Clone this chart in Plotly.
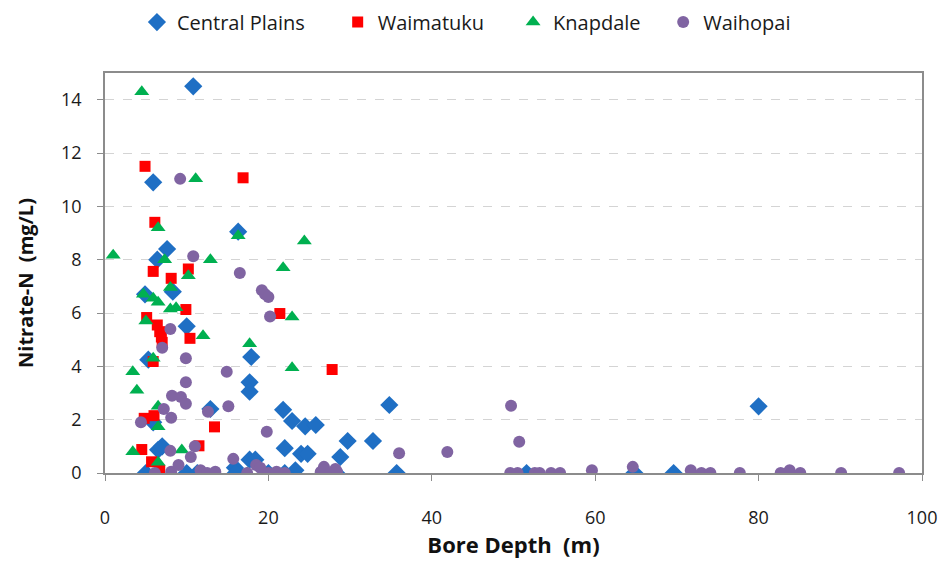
import plotly.graph_objects as go

# Bore depth (m) and nitrate-N (mg/L) for each aquifer
central_plains_depth = [10.8, 5.9, 16.3, 6.4, 7.6, 8.3, 4.9, 10.0, 5.3, 17.9, 17.7, 17.7,
                        12.9, 21.8, 22.9, 24.5, 25.8, 29.7, 32.8, 34.8, 80.0, 5.9, 6.5, 7.0,
                        22.0, 24.0, 24.8, 28.8, 17.7, 18.4, 15.9, 16.3, 23.3, 5.0, 10.0, 11.3,
                        16.0, 20.0, 22.0, 28.3, 35.7, 51.6, 64.8, 69.6]
central_plains_no3 = [14.5, 10.9, 9.05, 8.0, 8.4, 6.8, 6.7, 5.5, 4.25, 4.35, 3.4, 3.05,
                      2.4, 2.37, 1.95, 1.75, 1.8, 1.2, 1.2, 2.55, 2.5, 1.9, 0.87, 1.0,
                      0.93, 0.72, 0.72, 0.6, 0.5, 0.5, 0.2, 0.03, 0.1, 0.0, 0.0, 0.0,
                      0.0, 0.0, 0.0, 0.0, 0.0, 0.0, 0.0, 0.0]

waimatuku_depth = [4.9, 16.9, 6.1, 5.9, 8.1, 10.2, 5.1, 9.9, 21.4, 6.4, 6.7, 6.9, 7.0,
                   10.4, 5.9, 27.8, 13.4, 11.5, 4.8, 6.0, 4.5, 5.7, 6.7]
waimatuku_no3 = [11.5, 11.07, 9.4, 7.56, 7.3, 7.65, 5.83, 6.13, 5.98, 5.55, 5.3, 5.1, 4.9,
                 5.05, 4.18, 3.88, 1.73, 1.02, 2.05, 2.15, 0.88, 0.42, 0.1]

knapdale_depth = [1.0, 4.5, 11.1, 6.5, 16.3, 24.4, 7.3, 12.9, 21.8, 10.2, 8.0, 4.7, 5.9,
                  6.5, 8.7, 5.0, 12.0, 17.7, 22.9, 22.9, 5.9, 3.4, 3.9, 6.5, 6.5, 3.4,
                  9.4, 6.5, 17.4, 8.0]
knapdale_no3 = [8.17, 14.3, 11.03, 9.2, 8.9, 8.7, 8.0, 8.0, 7.7, 7.4, 6.96, 6.7, 6.55,
                6.4, 6.2, 5.7, 5.15, 4.85, 5.85, 3.95, 4.3, 3.8, 3.1, 2.5, 1.73, 0.8,
                0.86, 0.4, 0.0, 6.15]

waihopai_depth = [9.2, 10.8, 16.5, 19.2, 19.6, 20.0, 20.2, 8.0, 7.0, 9.9, 14.9, 9.9,
                  8.2, 9.3, 9.9, 15.1, 7.2, 8.1, 4.4, 12.6, 19.8, 11.0, 15.7, 18.5,
                  8.0, 26.8, 28.2, 26.4, 36.0, 41.9, 49.7, 50.7,
                  6.1, 8.1, 9.0, 10.5, 11.7, 12.5, 13.5, 17.4, 19.0, 20.0, 21.0, 22.0,
                  26.7, 27.6, 28.4,
                  49.6, 50.5, 52.6, 53.2, 54.6, 55.7, 59.6, 64.6,
                  71.7, 73.0, 74.1, 77.7, 82.7, 83.8, 85.1, 90.1, 97.2]
waihopai_no3 = [11.03, 8.13, 7.5, 6.85, 6.7, 6.6, 5.87, 5.4, 4.7, 4.3, 3.8, 3.4,
                2.9, 2.85, 2.6, 2.5, 2.4, 2.07, 1.9, 2.3, 1.55, 1.0, 0.53, 0.3,
                0.83, 0.23, 0.15, 0.04, 0.74, 0.79, 2.52, 1.17,
                0.0, 0.05, 0.3, 0.6, 0.1, 0.0, 0.05, 0.0, 0.2, 0.0, 0.05, 0.0,
                0.1, 0.0, 0.05,
                0.0, 0.0, 0.0, 0.0, 0.0, 0.0, 0.1, 0.23,
                0.1, 0.0, 0.0, 0.0, 0.0, 0.1, 0.0, 0.0, 0.0]

x_ticks = [0, 20, 40, 60, 80, 100]
y_ticks = [0, 2, 4, 6, 8, 10, 12, 14]

font_family = "'Open Sans', sans-serif"
axis_grey = "#8C8C8C"
text_dark = "#1A1A1A"

# name, x, y, symbol, colour, size, legend id, legend left edge (container fraction)
series = [
    ("Central Plains", central_plains_depth, central_plains_no3, "diamond", "#1F6FC4", 14, "legend", 0.146),
    ("Waimatuku", waimatuku_depth, waimatuku_no3, "square", "#FF0000", 11, "legend2", 0.360),
    ("Knapdale", knapdale_depth, knapdale_no3, "triangle-up", "#00B050", 13, "legend3", 0.547),
    ("Waihopai", waihopai_depth, waihopai_no3, "circle", "#8064A2", 12, "legend4", 0.707),
]

fig = go.Figure()
for name, xs, ys, symbol, color, size, leg, _ in series:
    fig.add_trace(go.Scatter(
        x=xs, y=ys, mode="markers", name=name, legend=leg,
        marker=dict(symbol=symbol, color=color, size=size, line=dict(width=0)),
    ))

legend_style = dict(orientation="h", xref="container", yref="container",
                    xanchor="left", yanchor="middle", y=0.961,
                    font=dict(family=font_family, size=20, color=text_dark),
                    bgcolor="rgba(0,0,0,0)", itemwidth=30)
layout_legends = {}
for _, _, _, _, _, _, leg, lx in series:
    layout_legends[leg] = dict(legend_style, x=lx)

fig.update_layout(
    width=938, height=567,
    margin=dict(l=105, r=16, t=73, b=94, autoexpand=False),
    paper_bgcolor="white", plot_bgcolor="white",
    font=dict(family=font_family, size=17, color=text_dark),
    showlegend=True,
    **layout_legends,
)

# y-axis title sits slightly below the plot's vertical centre
fig.add_annotation(
    text="<b>Nitrate-N  (mg/L)</b>", textangle=-90,
    xref="paper", yref="paper", x=-0.098, y=0.475, xanchor="center", yanchor="middle",
    showarrow=False, font=dict(size=20, color="#111111"),
)

fig.update_xaxes(
    range=[0, 100], tickvals=x_ticks, showgrid=False, zeroline=False,
    showline=True, linecolor=axis_grey, linewidth=1.6, mirror=True,
    ticks="outside", ticklen=6, tickcolor=axis_grey, ticklabelstandoff=22,
    tickfont=dict(size=18),
    title=dict(text="<b>Bore Depth  (m)</b>", font=dict(size=22, color="#111111"), standoff=7),
)
fig.update_yaxes(
    range=[0, 15], tickvals=y_ticks, showgrid=True, gridcolor="#D4D4D4",
    griddash="dash", gridwidth=1.3, zeroline=False,
    showline=True, linecolor=axis_grey, linewidth=1.6, mirror=True,
    ticks="outside", ticklen=6, tickcolor=axis_grey, ticklabelstandoff=12,
    tickfont=dict(size=18),
)

fig.write_html("out.html")
